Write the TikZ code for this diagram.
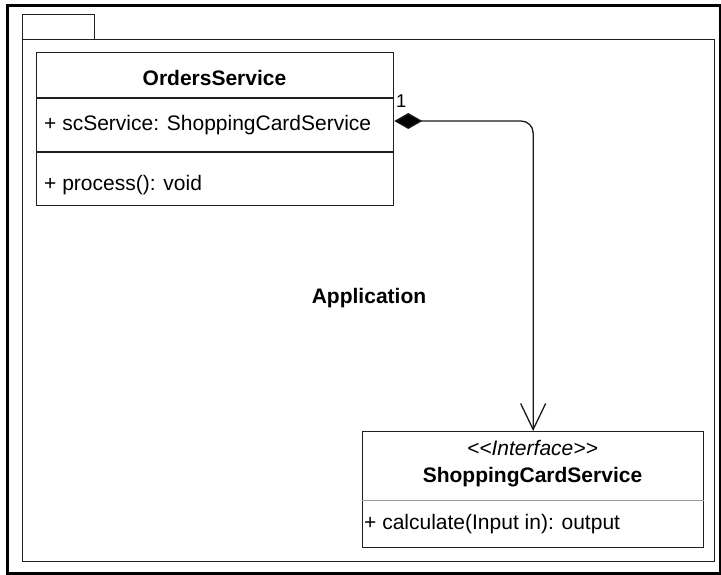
\documentclass[tikz,border=0pt]{standalone}
\usepackage{fontspec}
\setmainfont{Liberation Sans}[Ligatures=NoCommon]
\usetikzlibrary{arrows.meta}
\begin{document}
\begin{tikzpicture}[x=1pt,y=-1pt,
  box/.style={draw=black!88, line width=1.3pt, rectangle, inner sep=0pt, anchor=north west},
  txt/.style={font=\fontsize{21}{25}\selectfont, inner sep=0pt},
  divider/.style={draw=black!88, line width=1.3pt},
  softdivider/.style={draw=black!40, line width=1pt},
  conn/.style={draw=black!90, line width=1.3pt, rounded corners=12pt}]
\useasboundingbox (0,0) rectangle (721,574);
% outer frame
\node[draw=black, line width=2.6pt, rectangle, inner sep=0pt, anchor=north west,
      minimum width=713pt, minimum height=568pt] (frame) at (6,4) {};
% package
\node[box, minimum width=72pt, minimum height=25pt] (tab) at (22,14) {};
\node[box, minimum width=692pt, minimum height=522pt] (pkg) at (22,39) {};
\node[txt, font=\fontsize{21}{25}\selectfont\bfseries, anchor=base] (pkgname) at (369,303) {Application};
% OrdersService
\node[box, minimum width=357pt, minimum height=153pt] (orders) at (36,52) {};
\draw[divider] (orders.west |- 0,98) coordinate (od1l) -- (orders.east |- 0,98) coordinate (od1r);
\draw[divider] (orders.west |- 0,152) coordinate (od2l) -- (orders.east |- 0,152) coordinate (od2r);
\node[txt, font=\fontsize{21}{25}\selectfont\bfseries, anchor=base] (oname) at (214.5,85) {OrdersService};
\node[txt, anchor=base west] (oattr) at (44,130) {+ scService: ShoppingCardService};
\node[txt, anchor=base west] (ometh) at (44,190) {+ process(): void};
% ShoppingCardService interface
\node[box, minimum width=341pt, minimum height=116pt] (iface) at (362,431) {};
\draw[softdivider] (iface.west |- 0,500) coordinate (id1l) -- (iface.east |- 0,500) coordinate (id1r);
\node[txt, font=\fontsize{21}{25}\selectfont\itshape, anchor=base] (istereo) at (532.5,455) {\textless{}\textless{}Interface\textgreater{}\textgreater{}};
\node[txt, font=\fontsize{21}{25}\selectfont\bfseries, anchor=base] (iname) at (532.5,482) {ShoppingCardService};
\node[txt, anchor=base west] (imeth) at (364,529) {+ calculate(Input in): output};
% composition connector
\coordinate (src) at (orders.east |- 0,121);
\draw[conn, {Diamond[length=28pt,width=16pt,fill=black]}-{Straight Barb[length=26pt,width=25pt]}]
  (src) -| (iface.north);
\node[txt, font=\fontsize{18.5}{22}\selectfont, anchor=base west] (mult) at (396,107) {1};
\end{tikzpicture}
\end{document}
